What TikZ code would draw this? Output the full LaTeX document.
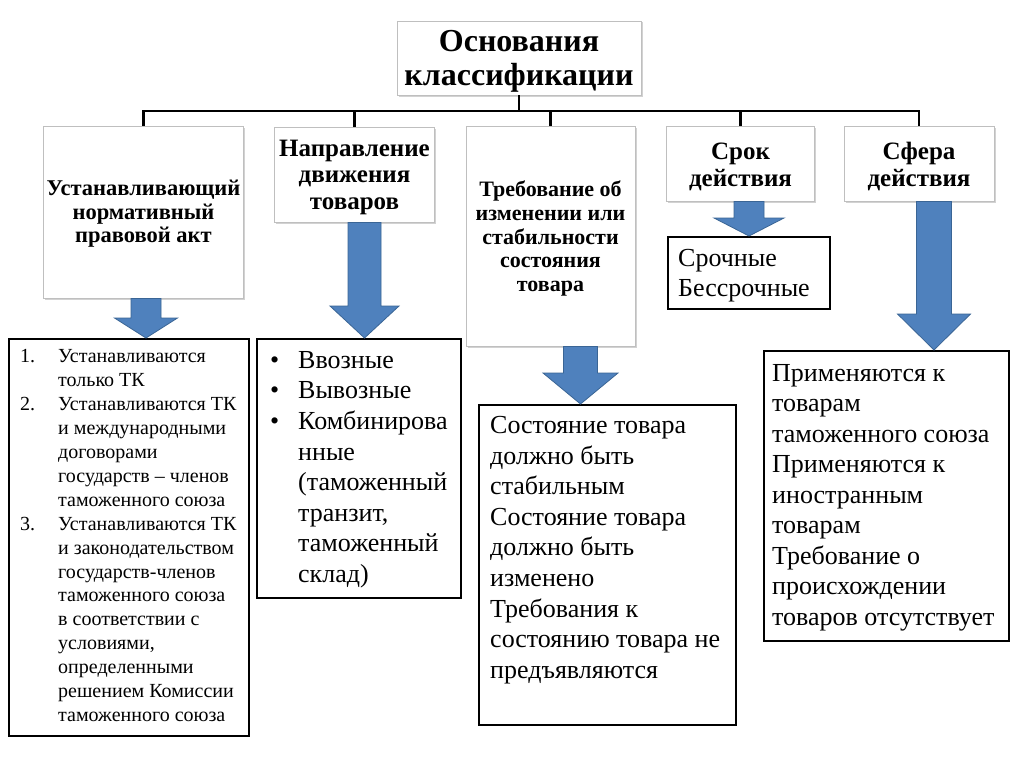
\documentclass[tikz,border=0pt]{standalone}
\usepackage{fontspec}
\setmainfont{Liberation Serif}
\usetikzlibrary{calc,shadows}

\definecolor{arrowblue}{HTML}{4F81BD}
\definecolor{arrowedge}{HTML}{3A6595}
\definecolor{boxgray}{HTML}{BFBFBF}

\tikzset{
  topbox/.style={draw=boxgray, fill=white, line width=0.8pt, align=center, inner sep=0pt,
    drop shadow={shadow xshift=1.5pt, shadow yshift=-1.5pt, opacity=0.35}},
  lowbox/.style={draw=black, line width=2.4pt, anchor=north west, inner sep=0pt},
  lowtext/.style={anchor=north west, align=left, inner sep=0pt},
  bus/.style={line width=2.6pt},
  blockarrow/.style={fill=arrowblue, draw=arrowedge, line width=0.8pt, line join=miter},
}

% block arrow: from node, to node, x, head length, half shaft, half head
\newcommand{\blockarrow}[6]{%
  \coordinate (ba top) at (#1.south -| #3,0);
  \coordinate (ba tip) at (#2.north -| #3,0);
  \filldraw[blockarrow] ($(ba top)+(-#5,0)$) -- ($(ba top)+(#5,0)$) -- ($(ba tip)+(#5,-#4)$)
    -- ($(ba tip)+(#6,-#4)$) -- (ba tip) -- ($(ba tip)+(-#6,-#4)$) -- ($(ba tip)+(-#5,-#4)$) -- cycle;}
% taller first line, pushes a centred text down a little
\newcommand{\lift}[1]{\rule{0pt}{#1}}

\begin{document}
\begin{tikzpicture}[x=1pt, y=-1pt]
\useasboundingbox[fill=white] (0,0) rectangle (1024,768);

% root and top row
\node[topbox, minimum width=244pt, minimum height=74pt, font=\fontsize{32}{34}\selectfont\bfseries] (root) at (519,58) {\lift{28pt}Основания\\классификации};
\node[topbox, minimum width=200pt, minimum height=172pt, font=\fontsize{22.5}{23.8}\selectfont\bfseries] (t1) at (143.5,212) {\lift{19pt}Устанавливающий\\нормативный\\правовой акт};
\node[topbox, minimum width=160pt, minimum height=95pt, font=\fontsize{25}{26.5}\selectfont\bfseries] (t2) at (354.5,174.5) {\lift{21.5pt}Направление\\движения\\товаров};
\node[topbox, minimum width=169pt, minimum height=220pt, font=\fontsize{22}{23.8}\selectfont\bfseries] (t3) at (550.5,236) {\lift{21pt}Требование об\\изменении или\\стабильности\\состояния\\товара};
\node[topbox, minimum width=148pt, minimum height=75pt, font=\fontsize{25}{26.5}\selectfont\bfseries] (t4) at (740.5,163.5) {\lift{23pt}Срок\\действия};
\node[topbox, minimum width=150pt, minimum height=75pt, font=\fontsize{25}{26.5}\selectfont\bfseries] (t5) at (919,163.5) {\lift{23pt}Сфера\\действия};

% bus
\coordinate (bus) at (0,111);
\draw[bus] (root.south) -- (root.south |- bus);
\draw[bus] (t1.north) -- (t1.north |- bus) -- (t5.north |- bus) -- (t5.north);
\foreach \n in {t2,t3,t4}
  \draw[bus] (\n.north) -- (\n.north |- bus);

% lower boxes
\node[lowbox, minimum width=240pt, minimum height=397pt] (l1) at (8,338) {};
\node[lowbox, minimum width=204pt, minimum height=259pt] (l2) at (256,338) {};
\node[lowbox, minimum width=257pt, minimum height=320pt] (l3) at (478,404) {};
\node[lowbox, minimum width=162pt, minimum height=72pt] (l4) at (667,236) {};
\node[lowbox, minimum width=245pt, minimum height=290pt] (l5) at (763,350) {};

% arrows
\blockarrow{t1}{l1}{146}{20}{15}{31.5}
\blockarrow{t2}{l2}{364.5}{32}{16.5}{34.5}
\blockarrow{t3}{l3}{580.5}{31}{17}{37.5}
\blockarrow{t4}{l4}{749}{18}{15}{35}
\blockarrow{t5}{l5}{934}{36}{17.5}{36.5}

% texts
\node[lowtext, font=\fontsize{20}{23.9}\selectfont] (l1txt) at (20,349.5) {%
\makebox[38pt][l]{1.}Устанавливаются\\
\hspace*{38pt}только ТК\\
\makebox[38pt][l]{2.}Устанавливаются ТК\\
\hspace*{38pt}и международными\\
\hspace*{38pt}договорами\\
\hspace*{38pt}государств – членов\\
\hspace*{38pt}таможенного союза\\
\makebox[38pt][l]{3.}Устанавливаются ТК\\
\hspace*{38pt}и законодательством\\
\hspace*{38pt}государств-членов\\
\hspace*{38pt}таможенного союза\\
\hspace*{38pt}в соответствии с\\
\hspace*{38pt}условиями,\\
\hspace*{38pt}определенными\\
\hspace*{38pt}решением Комиссии\\
\hspace*{38pt}таможенного союза};
\node[lowtext, font=\fontsize{26}{30.6}\selectfont] (l2txt) at (270,351) {%
\makebox[28pt][l]{•}Ввозные\\
\makebox[28pt][l]{•}Вывозные\\
\makebox[28pt][l]{•}Комбинирова\\
\hspace*{28pt}нные\\
\hspace*{28pt}(таможенный\\
\hspace*{28pt}транзит,\\
\hspace*{28pt}таможенный\\
\hspace*{28pt}склад)};
\node[lowtext, font=\fontsize{26}{30.6}\selectfont] (l3txt) at (490,416) {Состояние товара\\должно быть\\стабильным\\Состояние товара\\должно быть\\изменено\\Требования к\\состоянию товара не\\предъявляются};
\node[lowtext, font=\fontsize{26}{30}\selectfont] (l4txt) at (678,249) {Срочные\\Бессрочные};
\node[lowtext, font=\fontsize{26}{30.5}\selectfont] (l5txt) at (772,364) {Применяются к\\товарам\\таможенного союза\\Применяются к\\иностранным\\товарам\\Требование о\\происхождении\\товаров отсутствует};
\end{tikzpicture}
\end{document}
